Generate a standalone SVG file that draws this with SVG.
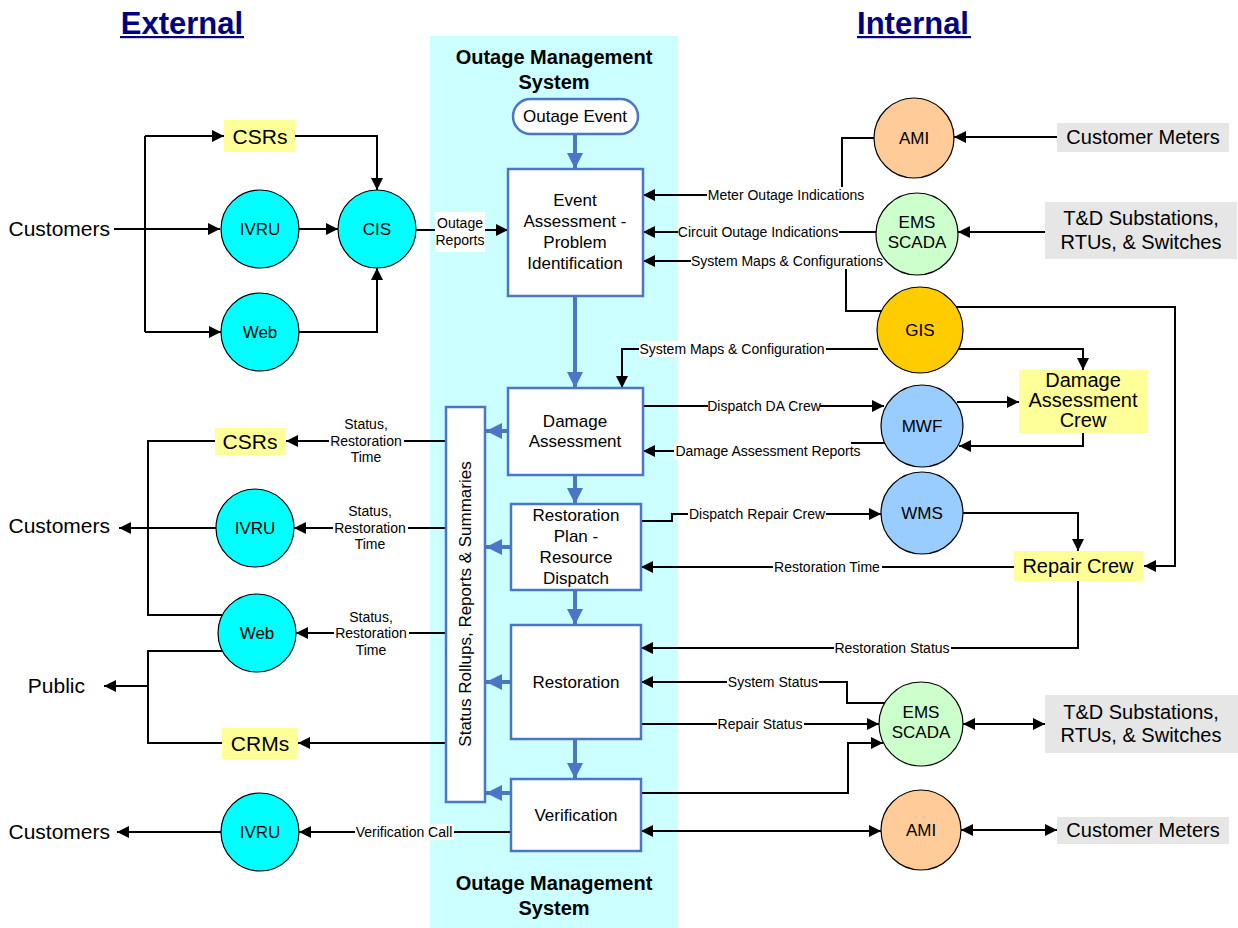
<svg xmlns="http://www.w3.org/2000/svg" width="1238" height="928" viewBox="0 0 1238 928">
  <defs>
    <marker id="ah" markerUnits="userSpaceOnUse" markerWidth="12" markerHeight="12" refX="12" refY="6" orient="auto-start-reverse">
      <path d="M0,0 L12,6 L0,12 z" fill="#000"/>
    </marker>
    <marker id="bh" markerUnits="userSpaceOnUse" markerWidth="16" markerHeight="16" refX="16" refY="8" orient="auto">
      <path d="M0,0 L16,8 L0,16 z" fill="#4A76C6"/>
    </marker>
    <style>
      text { font-family: "Liberation Sans", Arial, sans-serif; fill: #000; }
      .title { font-size: 31px; font-weight: bold; fill: #000080; text-anchor: middle; }
      .oms { font-size: 20px; font-weight: bold; text-anchor: middle; }
      .big { font-size: 21px; }
      .mid { font-size: 20px; text-anchor: middle; }
      .node { font-size: 17px; text-anchor: middle; }
      .lbl { font-size: 14px; text-anchor: middle; }
      .box { fill: #fff; stroke: #4A76C6; stroke-width: 2.5; }
      .circ { stroke: #000; stroke-width: 1.2; }
      .cyan { fill: #00FFFF; }
      .peach { fill: #FFCC99; }
      .green { fill: #CCFFCC; }
      .gold { fill: #FFCC00; }
      .blue { fill: #99CCFF; }
      .yel { fill: #FFFF99; }
      .gray { fill: #E6E6E6; }
      .wire { fill: none; stroke: #000; stroke-width: 2; }
      .arr { marker-end: url(#ah); }
      .both { marker-start: url(#ah); marker-end: url(#ah); }
      .flow { fill: none; stroke: #4A76C6; stroke-width: 4; marker-end: url(#bh); }
      .bg { fill: #fff; }
    </style>
  </defs>

  <!-- system panel -->
  <rect x="430" y="36" width="248" height="892" fill="#CCFFFF"/>

  <!-- headings -->
  <text class="title" x="182" y="34">External</text>
  <rect x="120" y="36" width="124" height="2.2" fill="#000080"/>
  <text class="title" x="913" y="34">Internal</text>
  <rect x="857" y="36" width="114" height="2.2" fill="#000080"/>
  <text class="oms" x="554" y="64">Outage Management</text>
  <text class="oms" x="554" y="89">System</text>
  <text class="oms" x="554" y="890">Outage Management</text>
  <text class="oms" x="554" y="915">System</text>

  <!-- connectors -->
  <g id="connectors">
    <!-- inbound customer contact -->
    <path class="wire arr" d="M114,229 H220"/>
    <path class="wire" d="M145,136 V332"/>
    <path class="wire arr" d="M145,136 H224"/>
    <path class="wire arr" d="M145,332 H221"/>
    <path class="wire arr" d="M295,136 H377 V190"/>
    <path class="wire arr" d="M299,229 H338"/>
    <path class="wire arr" d="M299,332 H377 V268"/>
    <path class="wire arr" d="M416,230 H508"/>

    <!-- internal sources into event assessment -->
    <path class="wire arr" d="M1057,137 H954"/>
    <path class="wire arr" d="M874,138 H842 V195 H643"/>
    <path class="wire arr" d="M1045,232 H958"/>
    <path class="wire arr" d="M876,232 H643"/>
    <path class="wire arr" d="M882,311 H846 V261 H643"/>

    <!-- GIS feeds -->
    <path class="wire arr" d="M878,349 H622 V388"/>
    <path class="wire arr" d="M958,349 H1083 V370"/>
    <path class="wire arr" d="M956,307 H1175 V566 H1144"/>

    <!-- crews -->
    <path class="wire arr" d="M643,406 H884"/>
    <path class="wire arr" d="M887,443 H852 V451 H643"/>
    <path class="wire arr" d="M957,402 H1019"/>
    <path class="wire arr" d="M1083,433 V446 H959"/>
    <path class="wire arr" d="M641,521 H672 V514 H881"/>
    <path class="wire arr" d="M963,513 H1078 V551"/>
    <path class="wire arr" d="M1014,567 H641"/>
    <path class="wire arr" d="M1078,581 V648 H641"/>

    <!-- SCADA / AMI lower -->
    <path class="wire arr" d="M885,703 H847 V682 H641"/>
    <path class="wire arr" d="M641,724 H879"/>
    <path class="wire arr" d="M641,793 H848 V743 H883"/>
    <path class="wire both" d="M963,724 H1045"/>
    <path class="wire both" d="M641,831 H881"/>
    <path class="wire both" d="M961,830 H1057"/>

    <!-- outbound to customers and public -->
    <path class="wire arr" d="M446,441 H286"/>
    <path class="wire arr" d="M446,528 H294"/>
    <path class="wire arr" d="M446,633 H296"/>
    <path class="wire arr" d="M446,743 H298"/>
    <path class="wire" d="M215,441 H148 V615 H222"/>
    <path class="wire arr" d="M216,528 H119"/>
    <path class="wire" d="M222,651 H148 V743 H222"/>
    <path class="wire arr" d="M148,686 H104"/>
    <path class="wire arr" d="M511,832 H299"/>
    <path class="wire arr" d="M221,832 H117"/>

    <!-- process flow -->
    <path class="flow" d="M575,134 V169"/>
    <path class="flow" d="M575,296 V388"/>
    <path class="flow" d="M575,475 V504"/>
    <path class="flow" d="M575,590 V625"/>
    <path class="flow" d="M575,739 V779"/>
    <path class="flow" d="M508,431 H486"/>
    <path class="flow" d="M511,547 H486"/>
    <path class="flow" d="M511,682 H486"/>
    <path class="flow" d="M511,793 H486"/>

    <!-- connector labels -->
    <rect class="bg" x="435" y="212" width="50" height="40"/>
    <text class="lbl" x="460" y="228">Outage</text>
    <text class="lbl" x="460" y="245">Reports</text>

    <rect class="bg" x="707" y="187" width="158" height="16"/>
    <text class="lbl" x="786" y="200">Meter Outage Indications</text>
    <rect class="bg" x="678" y="224" width="161" height="16"/>
    <text class="lbl" x="758" y="237">Circuit Outage Indications</text>
    <rect class="bg" x="691" y="253" width="193" height="16"/>
    <text class="lbl" x="787" y="266">System Maps &amp; Configurations</text>
    <rect class="bg" x="639" y="341" width="187" height="16"/>
    <text class="lbl" x="732" y="354">System Maps &amp; Configuration</text>
    <rect class="bg" x="708" y="398" width="112" height="16"/>
    <text class="lbl" x="764" y="411">Dispatch DA Crew</text>
    <rect class="bg" x="674" y="444" width="188" height="16"/>
    <text class="lbl" x="768" y="456">Damage Assessment Reports</text>
    <rect class="bg" x="688" y="506" width="138" height="16"/>
    <text class="lbl" x="757" y="519">Dispatch Repair Crew</text>
    <rect class="bg" x="773" y="559" width="109" height="16"/>
    <text class="lbl" x="827" y="572">Restoration Time</text>
    <rect class="bg" x="834" y="640" width="117" height="16"/>
    <text class="lbl" x="892" y="653">Restoration Status</text>
    <rect class="bg" x="727" y="674" width="92" height="16"/>
    <text class="lbl" x="773" y="687">System Status</text>
    <rect class="bg" x="717" y="716" width="87" height="16"/>
    <text class="lbl" x="760" y="729">Repair Status</text>
    <rect class="bg" x="355" y="824" width="99" height="16"/>
    <text class="lbl" x="404" y="837">Verification Call</text>

    <rect class="bg" x="329" y="433" width="75" height="16"/>
    <text class="lbl" x="366" y="429">Status,</text>
    <text class="lbl" x="366" y="446">Restoration</text>
    <text class="lbl" x="366" y="462">Time</text>
    <rect class="bg" x="333" y="520" width="75" height="16"/>
    <text class="lbl" x="370" y="516">Status,</text>
    <text class="lbl" x="370" y="533">Restoration</text>
    <text class="lbl" x="370" y="549">Time</text>
    <rect class="bg" x="334" y="625" width="75" height="16"/>
    <text class="lbl" x="371" y="622">Status,</text>
    <text class="lbl" x="371" y="638">Restoration</text>
    <text class="lbl" x="371" y="655">Time</text>
  </g>

  <!-- external endpoints -->
  <g id="customers-in"><text class="big" x="110" y="236" text-anchor="end">Customers</text></g>
  <g id="customers-out"><text class="big" x="110" y="533" text-anchor="end">Customers</text></g>
  <g id="public"><text class="big" x="85" y="693" text-anchor="end">Public</text></g>
  <g id="customers-verify"><text class="big" x="110" y="839" text-anchor="end">Customers</text></g>

  <g id="csrs-in"><rect class="yel" x="224" y="120" width="71" height="32"/><text class="big" x="260" y="143.5" text-anchor="middle">CSRs</text></g>
  <g id="ivru-in"><circle class="circ cyan" cx="260" cy="229" r="39"/><text class="node" x="260" y="235">IVRU</text></g>
  <g id="cis"><circle class="circ cyan" cx="377" cy="229" r="39"/><text class="node" x="377" y="235">CIS</text></g>
  <g id="web-in"><circle class="circ cyan" cx="260" cy="332" r="39"/><text class="node" x="260" y="338">Web</text></g>

  <g id="csrs-out"><rect class="yel" x="215" y="428" width="71" height="27"/><text class="big" x="250" y="448.5" text-anchor="middle">CSRs</text></g>
  <g id="ivru-out"><circle class="circ cyan" cx="255" cy="528" r="39"/><text class="node" x="255" y="534">IVRU</text></g>
  <g id="web-out"><circle class="circ cyan" cx="257" cy="633" r="39"/><text class="node" x="257" y="639">Web</text></g>
  <g id="crms"><rect class="yel" x="222" y="728" width="76" height="31"/><text class="big" x="260" y="750.5" text-anchor="middle">CRMs</text></g>
  <g id="ivru-verify"><circle class="circ cyan" cx="260" cy="832" r="39"/><text class="node" x="260" y="838">IVRU</text></g>

  <!-- outage management process -->
  <g id="outage-event"><rect x="513" y="99" width="125" height="35" rx="17.5" fill="#fff" stroke="#4A76C6" stroke-width="2.5"/><text class="node" x="575" y="122">Outage Event</text></g>
  <g id="event-assessment"><rect class="box" x="508" y="169" width="135" height="127"/>
    <text class="node" x="575" y="206">Event</text>
    <text class="node" x="575" y="227">Assessment -</text>
    <text class="node" x="575" y="248">Problem</text>
    <text class="node" x="575" y="269">Identification</text>
  </g>
  <g id="damage-assessment"><rect class="box" x="508" y="388" width="135" height="87"/>
    <text class="node" x="575" y="427">Damage</text>
    <text class="node" x="575" y="447">Assessment</text>
  </g>
  <g id="restoration-plan"><rect class="box" x="511" y="504" width="130" height="86"/>
    <text class="node" x="576" y="521">Restoration</text>
    <text class="node" x="576" y="542">Plan -</text>
    <text class="node" x="576" y="563">Resource</text>
    <text class="node" x="576" y="584">Dispatch</text>
  </g>
  <g id="restoration"><rect class="box" x="511" y="625" width="130" height="114"/>
    <text class="node" x="576" y="688">Restoration</text>
  </g>
  <g id="verification"><rect class="box" x="511" y="779" width="130" height="72"/>
    <text class="node" x="576" y="821">Verification</text>
  </g>
  <g id="status-rollups"><rect class="box" x="446" y="407" width="39" height="395"/>
    <text class="node" transform="translate(471,604) rotate(-90)">Status Rollups, Reports &amp; Summaries</text>
  </g>

  <!-- internal systems -->
  <g id="ami-top"><circle class="circ peach" cx="914" cy="138" r="40"/><text class="node" x="914" y="144">AMI</text></g>
  <g id="meters-top"><rect class="gray" x="1057" y="123" width="172" height="29"/><text class="mid" x="1143" y="144">Customer Meters</text></g>
  <g id="ems-top"><circle class="circ green" cx="917" cy="234" r="41"/>
    <text class="node" x="917" y="228">EMS</text><text class="node" x="917" y="248">SCADA</text></g>
  <g id="substations-top"><rect class="gray" x="1045" y="202" width="192" height="57"/>
    <text class="mid" x="1141" y="225">T&amp;D Substations,</text><text class="mid" x="1141" y="249">RTUs, &amp; Switches</text></g>
  <g id="gis"><circle class="circ gold" cx="920" cy="330" r="43"/><text class="node" x="920" y="336">GIS</text></g>
  <g id="mwf"><circle class="circ blue" cx="922" cy="426" r="41"/><text class="node" x="922" y="432">MWF</text></g>
  <g id="wms"><circle class="circ blue" cx="922" cy="513" r="41"/><text class="node" x="922" y="519">WMS</text></g>
  <g id="da-crew"><rect class="yel" x="1019" y="370" width="128" height="63"/>
    <text class="mid" x="1083" y="387">Damage</text>
    <text class="mid" x="1083" y="407">Assessment</text>
    <text class="mid" x="1083" y="427">Crew</text></g>
  <g id="repair-crew"><rect class="yel" x="1014" y="551" width="129" height="30"/><text class="mid" x="1078" y="573">Repair Crew</text></g>
  <g id="ems-bottom"><circle class="circ green" cx="921" cy="724" r="42"/>
    <text class="node" x="921" y="718">EMS</text><text class="node" x="921" y="738">SCADA</text></g>
  <g id="substations-bottom"><rect class="gray" x="1045" y="695" width="193" height="58"/>
    <text class="mid" x="1141" y="719">T&amp;D Substations,</text><text class="mid" x="1141" y="742">RTUs, &amp; Switches</text></g>
  <g id="ami-bottom"><circle class="circ peach" cx="921" cy="830" r="40"/><text class="node" x="921" y="836">AMI</text></g>
  <g id="meters-bottom"><rect class="gray" x="1057" y="817" width="172" height="27"/><text class="mid" x="1143" y="837">Customer Meters</text></g>
</svg>
